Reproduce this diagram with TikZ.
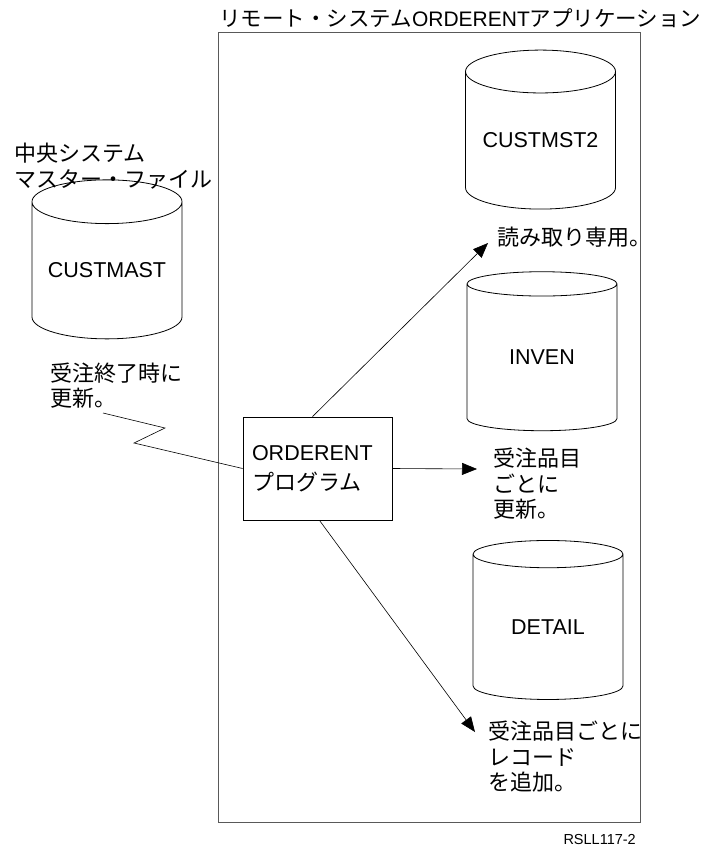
\documentclass[tikz,border=0pt]{standalone}
\usepackage{fontspec}
\setmainfont{Liberation Sans}
\newfontfamily\jpfont{Noto Sans CJK JP}
\usepackage{tikz}
\usetikzlibrary{arrows.meta, positioning, shapes.geometric}

\begin{document}
\begin{tikzpicture}[
  x=1pt, y=-1pt,
  cyl/.style={draw, line width=0.8pt, cylinder, shape border rotate=90, aspect=0.37,
              minimum width=150pt, minimum height=159pt, inner sep=0pt,
              font=\fontsize{21.5}{25}\selectfont},
  note/.style={anchor=west, align=left, inner sep=0pt,
               font=\jpfont\fontsize{22}{25.5}\selectfont},
  prog/.style={draw, line width=0.8pt, text width=131pt, inner xsep=9pt,
               minimum height=103pt, align=left,
               font=\fontsize{21.5}{30}\selectfont},
  flow/.style={-{Triangle[length=15pt,width=12pt]}, line width=0.6pt}
]
  \useasboundingbox (0,0) rectangle (715,848);

  \node[draw=black!65, line width=0.9pt, minimum width=422pt, minimum height=790pt,
        inner sep=0pt] (app) at (429,427) {};
  \node[anchor=west, inner sep=0pt, font=\fontsize{21}{25}\selectfont] (appTitle) at (219,18)
    {{\jpfont\fontsize{21.5}{25}\selectfont リモート・システム}ORDERENT{\jpfont\fontsize{21.5}{25}\selectfont アプリケーション}};

  \node[cyl] (custmast) at (107,270.5) {CUSTMAST};
  \node[cyl] (custmst2) at (540.5,140.5) {CUSTMST2};
  \node[cyl] (inven) at (542,357.5) {INVEN};
  \node[cyl] (detail) at (548,627) {DETAIL};

  \node[note] (centralLbl) at (14,166) {中央システム\\マスター・ファイル};
  \node[note] (doneLbl) at (50,385.5) {受注終了時に\\更新。};
  \node[note] (roLbl) at (497,237) {読み取り専用。};
  \node[note] (invLbl) at (493,484) {受注品目\\ごとに\\更新。};
  \node[note] (detLbl) at (488,757) {受注品目ごとに\\レコード\\を追加。};

  \node[prog] (prog) at (317.5,468.5) {ORDERENT\\{\jpfont\fontsize{22}{30}\selectfont プログラム}};

  \coordinate (zigA) at (103,413);
  \coordinate (roTip) at (488,243);
  \coordinate (invTip) at (477,469);
  \coordinate (detTip) at (475,732);

  \draw[line width=0.6pt] (zigA) -- (165,428) -- (134,443) -- (prog.west);
  \draw[flow] ([xshift=-5pt]prog.north) -- (roTip);
  \draw[flow] (prog.east) -- (invTip);
  \draw[flow] ([xshift=2pt]prog.south) -- (detTip);

  \node[anchor=east, inner sep=0pt, font=\fontsize{14.5}{16}\selectfont] (figId) at (636,839) {RSLL117-2};
\end{tikzpicture}
\end{document}
